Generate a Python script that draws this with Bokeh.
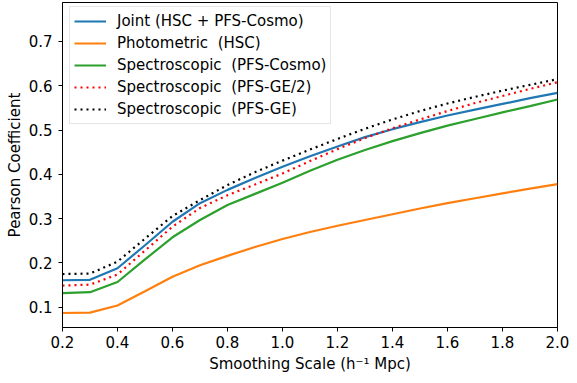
from bokeh.plotting import figure
from bokeh.models import FixedTicker, Range1d, Legend, LegendItem, NumeralTickFormatter
from bokeh.embed import file_html
from bokeh.resources import INLINE

scale = [0.2, 0.3, 0.4, 0.5, 0.6, 0.7, 0.8, 0.9, 1.0, 1.1, 1.2, 1.3, 1.4, 1.5, 1.6, 1.7, 1.8, 1.9, 2.0]
joint = [0.161, 0.162, 0.188, 0.240, 0.293, 0.335, 0.365, 0.392, 0.417, 0.441, 0.463, 0.484, 0.502, 0.518, 0.533, 0.546, 0.559, 0.572, 0.584]
photo = [0.087, 0.088, 0.104, 0.136, 0.169, 0.195, 0.216, 0.236, 0.254, 0.270, 0.284, 0.297, 0.310, 0.323, 0.335, 0.346, 0.357, 0.368, 0.378]
spec_cosmo = [0.132, 0.134, 0.157, 0.208, 0.258, 0.297, 0.331, 0.356, 0.381, 0.408, 0.433, 0.455, 0.475, 0.493, 0.510, 0.525, 0.540, 0.554, 0.569]
spec_ge2 = [0.149, 0.151, 0.174, 0.228, 0.282, 0.324, 0.353, 0.377, 0.402, 0.430, 0.457, 0.482, 0.504, 0.524, 0.543, 0.561, 0.577, 0.593, 0.608]
spec_ge = [0.175, 0.176, 0.203, 0.255, 0.306, 0.342, 0.376, 0.405, 0.431, 0.456, 0.480, 0.503, 0.524, 0.543, 0.560, 0.575, 0.589, 0.602, 0.615]

labels = ["Joint (HSC + PFS-Cosmo)", "Photometric  (HSC)", "Spectroscopic  (PFS-Cosmo)",
          "Spectroscopic  (PFS-GE/2)", "Spectroscopic  (PFS-GE)"]
x_ticks = [0.2, 0.4, 0.6, 0.8, 1.0, 1.2, 1.4, 1.6, 1.8, 2.0]
y_ticks = [0.1, 0.2, 0.3, 0.4, 0.5, 0.6, 0.7]

FONT = "DejaVu Sans"
FS = "15px"

p = figure(width=569, height=375, output_backend="svg", toolbar_location=None,
           x_range=Range1d(0.2, 2.0), y_range=Range1d(0.0543, 0.788),
           min_border_left=62, min_border_right=12, min_border_top=2, min_border_bottom=47)
p.background_fill_color = "white"
p.border_fill_color = "white"
p.outline_line_color = "black"
p.outline_line_width = 1
p.xgrid.visible = False
p.ygrid.visible = False

series = [joint, photo, spec_cosmo, spec_ge2, spec_ge]
colors = ["#1f77b4", "#ff7f0e", "#2ca02c", "red", "black"]
dashes = ["solid", "solid", "solid", "2 4", "2 4"]
renderers = []
for ys, c, d in zip(series, colors, dashes):
    r = p.line(scale, ys, line_color=c, line_width=2.2, line_dash=d)
    renderers.append(r)

for ax in (p.xaxis[0], p.yaxis[0]):
    ax.major_tick_in = 0
    ax.major_tick_out = 4
    ax.minor_tick_line_color = None
    ax.axis_line_color = "black"
    ax.major_tick_line_color = "black"
    ax.major_label_text_font = FONT
    ax.major_label_text_font_size = FS
    ax.major_label_text_color = "black"
    ax.axis_label_text_font = FONT
    ax.axis_label_text_font_size = FS
    ax.axis_label_text_font_style = "normal"
    ax.axis_label_text_color = "black"

p.xaxis.ticker = FixedTicker(ticks=x_ticks)
p.yaxis.ticker = FixedTicker(ticks=y_ticks)
p.xaxis.formatter = NumeralTickFormatter(format="0.0")
p.yaxis.formatter = NumeralTickFormatter(format="0.0")
p.xaxis.major_label_standoff = 4
p.yaxis.major_label_standoff = 6
p.xaxis.axis_label = "Smoothing Scale (h\u207b\u00b9 Mpc)"
p.yaxis.axis_label = "Pearson Coefficient"
p.xaxis.axis_label_standoff = 4
p.yaxis.axis_label_standoff = 2

legend = Legend(items=[LegendItem(label=l, renderers=[r]) for l, r in zip(labels, renderers)],
                location=(7, 203))
legend.label_text_font = FONT
legend.label_text_font_size = FS
legend.label_text_color = "black"
legend.glyph_width = 32
legend.glyph_height = 20
legend.label_height = 20
legend.label_standoff = 11
legend.spacing = 2
legend.padding = 4
legend.margin = 0
legend.border_line_color = "#cccccc"
legend.border_line_width = 1
legend.background_fill_alpha = 0.8
p.add_layout(legend, "center")

open("out.html", "w").write(file_html(p, INLINE))
